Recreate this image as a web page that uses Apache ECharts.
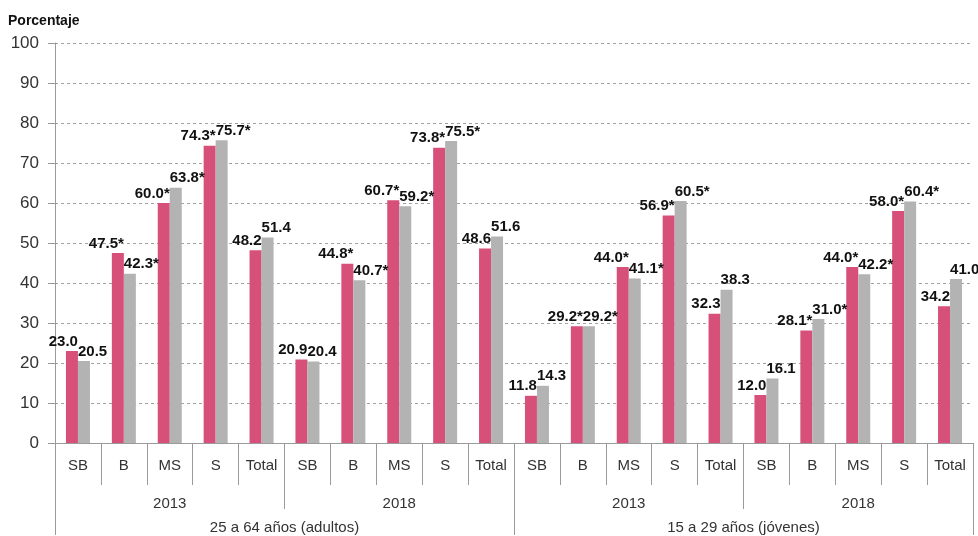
<!DOCTYPE html>
<html>
<head>
<meta charset="utf-8">
<script src="https://cdn.jsdelivr.net/npm/echarts@6/dist/echarts.min.js"></script>
<style>
html,body{margin:0;padding:0;background:#fff;}
#chart{width:978px;height:536px;}
</style>
</head>
<body>
<div id="chart"></div>
<script>
const categories = ['SB','B','MS','S','Total','SB','B','MS','S','Total','SB','B','MS','S','Total','SB','B','MS','S','Total'];
const years = ['2013','2018','2013','2018'];
const ageGroups = ['25 a 64 años (adultos)','15 a 29 años (jóvenes)'];
const pinkValues = [23.0,47.5,60.0,74.3,48.2, 20.9,44.8,60.7,73.8,48.6, 11.8,29.2,44.0,56.9,32.3, 12.0,28.1,44.0,58.0,34.2];
const grayValues = [20.5,42.3,63.8,75.7,51.4, 20.4,40.7,59.2,75.5,51.6, 14.3,29.2,41.1,60.5,38.3, 16.1,31.0,42.2,60.4,41.0];
const pinkSig = [0,1,1,1,0, 0,1,1,1,0, 0,1,1,1,0, 0,1,1,1,0];
const graySig = [0,1,1,1,0, 0,1,1,1,0, 0,1,1,1,0, 0,1,1,1,0];
const yTicks = [0,10,20,30,40,50,60,70,80,90,100];

const FONT = '"Liberation Sans", Arial, sans-serif';
const chart = echarts.init(document.getElementById('chart'));
const grid = {left:55, right:5, top:43, bottom:93};
function fmt(sig){ return p => p.value.toFixed(1) + (sig[p.dataIndex] ? '*' : ''); }
const labelBase = {show:true, position:'top', distance:2, fontFamily:FONT, fontSize:15, fontWeight:'bold', color:'#111'};
const tickStyle = {color:'#9a9a9a', width:1};

chart.setOption({
  animation:false,
  title:{text:'Porcentaje', left:3, top:9, textStyle:{fontFamily:FONT, fontSize:14, fontWeight:'bold', color:'#111'}},
  grid:grid,
  xAxis:[
    {type:'category', data:categories, position:'bottom',
     axisLine:{show:true, lineStyle:tickStyle},
     axisTick:{show:true, interval:0, length:42, lineStyle:tickStyle},
     axisLabel:{interval:0, margin:15, fontFamily:FONT, fontSize:15, color:'#333'}},
    {type:'category', data:years, position:'bottom',
     axisLine:{show:false},
     axisTick:{show:true, interval:0, length:66, lineStyle:tickStyle},
     axisLabel:{interval:0, margin:53, fontFamily:FONT, fontSize:15, color:'#333'}},
    {type:'category', data:ageGroups, position:'bottom',
     axisLine:{show:false},
     axisTick:{show:true, interval:0, length:92, lineStyle:tickStyle},
     axisLabel:{interval:0, margin:77, fontFamily:FONT, fontSize:15, color:'#333'}}
  ],
  yAxis:{type:'value', min:0, max:100, interval:10,
    axisLine:{show:true, lineStyle:tickStyle},
    axisTick:{show:true, length:7, lineStyle:tickStyle},
    axisLabel:{margin:16, fontFamily:FONT, fontSize:17, color:'#333', formatter:v => yTicks.includes(v) ? String(v) : ''},
    splitLine:{show:true, lineStyle:{color:'#a0a0a0', type:[3,3], width:1}}
  },
  series:[
    {type:'bar', data:pinkValues, barWidth:12, barGap:'0%', itemStyle:{color:'#d65079'},
     label:Object.assign({}, labelBase, {align:'right', offset:[6,0], formatter:fmt(pinkSig)})},
    {type:'bar', data:grayValues, barWidth:12, barGap:'0%', itemStyle:{color:'#b3b3b3'},
     label:Object.assign({}, labelBase, {align:'left', offset:[-6,0], formatter:fmt(graySig)})}
  ]
});
</script>
</body>
</html>
